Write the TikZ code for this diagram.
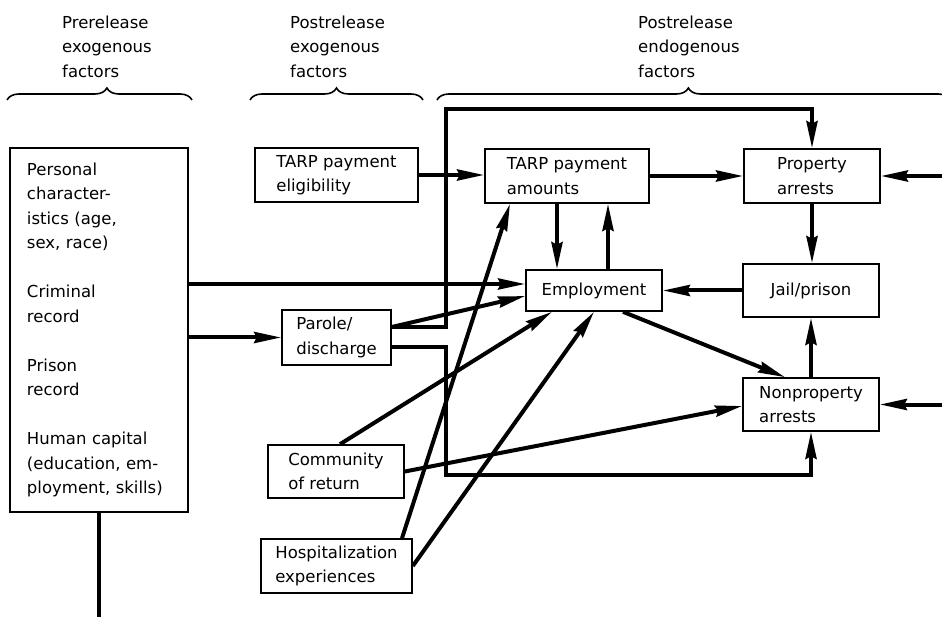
\documentclass[tikz,border=0pt]{standalone}
\usepackage{fontspec}
\setmainfont{DejaVu Sans}
\usetikzlibrary{arrows.meta,decorations.pathreplacing}

\begin{document}
\begin{tikzpicture}[x=1pt,y=-1pt,
  every node/.style={font=\fontsize{16.5}{24.5}\selectfont},
  box/.style={draw, line width=1.6pt, align=left, inner sep=0pt},
  link/.style={line width=4pt, -{Stealth[length=27pt,width=11pt,inset=2.5pt]}},
  plain/.style={line width=4pt},
  bracket/.style={line width=1.6pt, decorate, decoration={brace, amplitude=12pt, aspect=#1}},
  bracket/.default=0.5,
  heading/.style={anchor=north west, inner sep=0pt, align=left}]

\clip (0,0) rectangle (942,617);

% column headings and their braces
\node[heading] (h1) at (62,15.5) {Prerelease\\exogenous\\factors};
\node[heading] (h2) at (290,15.5) {Postrelease\\exogenous\\factors};
\node[heading] (h3) at (638,15.5) {Postrelease\\endogenous\\factors};
\draw[bracket=0.54] (7,100) -- (192,100);
\draw[bracket] (250,100) -- (423,100);
\draw[bracket=0.49] (437,100) -- (950,100);

% prerelease factors
\node[box, text width=144pt, inner xsep=17pt, minimum height=364pt] (L) at (99,330)
  {Personal\\character-\\istics (age,\\sex, race)\\[24.5pt]
   Criminal\\record\\[24.5pt]
   Prison\\record\\[24.5pt]
   Human capital\\(education, em-\\ployment, skills)};

% postrelease exogenous factors
\node[box, minimum width=163pt, minimum height=54pt] (elig) at (336.5,175) {TARP payment\\eligibility};
\node[box, minimum width=109pt, minimum height=55pt] (parole) at (336.5,337.5) {Parole/\\discharge};
\node[box, minimum width=136pt, minimum height=53pt] (comm) at (336,471.5) {Community\\of return};
\node[box, minimum width=151pt, minimum height=54pt] (hosp) at (336.5,566) {Hospitalization\\experiences};

% postrelease endogenous factors
\node[box, minimum width=164pt, minimum height=54pt] (amt) at (567,176) {TARP payment\\amounts};
\node[box, minimum width=136pt, minimum height=41pt] (emp) at (594,290.5) {Employment};
\node[box, minimum width=136pt, minimum height=54pt] (prop) at (812,176) {Property\\arrests};
\node[box, minimum width=136pt, minimum height=53pt] (jail) at (811,290.5) {Jail/prison};
\node[box, minimum width=136pt, minimum height=53pt] (nonp) at (811,404.5) {Nonproperty\\arrests};

% helper points
\coordinate (crimin) at ([yshift=6.5pt]emp.west);
\coordinate (ptop) at ([yshift=10.5pt]parole.east);
\coordinate (pbot) at ([yshift=-9.5pt]parole.east);
\coordinate (ltop) at (446,109);
\coordinate (lbot) at (446,475);
\coordinate (dn) at ([xshift=-10pt]amt.south);
\coordinate (up) at ([xshift=41pt]amt.south);
\path (prop.east) ++(80,0) coordinate (edgeP);
\path (nonp.east) ++(80,0) coordinate (edgeN);
\path (L.south) ++(0,110) coordinate (Lout);

% connectors
\draw[plain] (L.south) -- (Lout);
\draw[link] (L.east |- parole.west) -- (parole.west);
\draw[link] (L.east |- crimin) -- (crimin);
\draw[link] (elig.east) -- (elig.east -| amt.west);
\draw[link] (amt.east) -- (prop.west);
\draw[link] (edgeP) -- (prop.east);
\draw[link] (edgeN) -- (nonp.east);
\draw[link] (prop.south) -- (prop.south |- jail.north);
\draw[link] (jail.west) -- (jail.west -| emp.east);
\draw[link] (nonp.north) -- (jail.south);
\draw[link] (dn) -- (dn |- emp.north);
\draw[link] (up |- emp.north) -- (up);
\draw[link] ([xshift=29pt]emp.south) -- ([xshift=-26pt]nonp.north);
\draw[link] (ptop) -- ([yshift=-5.5pt]emp.west);
\draw[link] (ptop) -| (ltop) -| (prop.north);
\draw[link] (pbot) -| (lbot) -| (nonp.south);
\draw[link] ([xshift=4pt]comm.north) -- ([xshift=-42pt]emp.south);
\draw[link] (comm.east) -- ([yshift=-1.5pt]nonp.west);
\draw[link] ([xshift=65.5pt]hosp.north) -- ([xshift=-57pt]amt.south);
\draw[link] (hosp.east) -- (emp.south);
\end{tikzpicture}
\end{document}
